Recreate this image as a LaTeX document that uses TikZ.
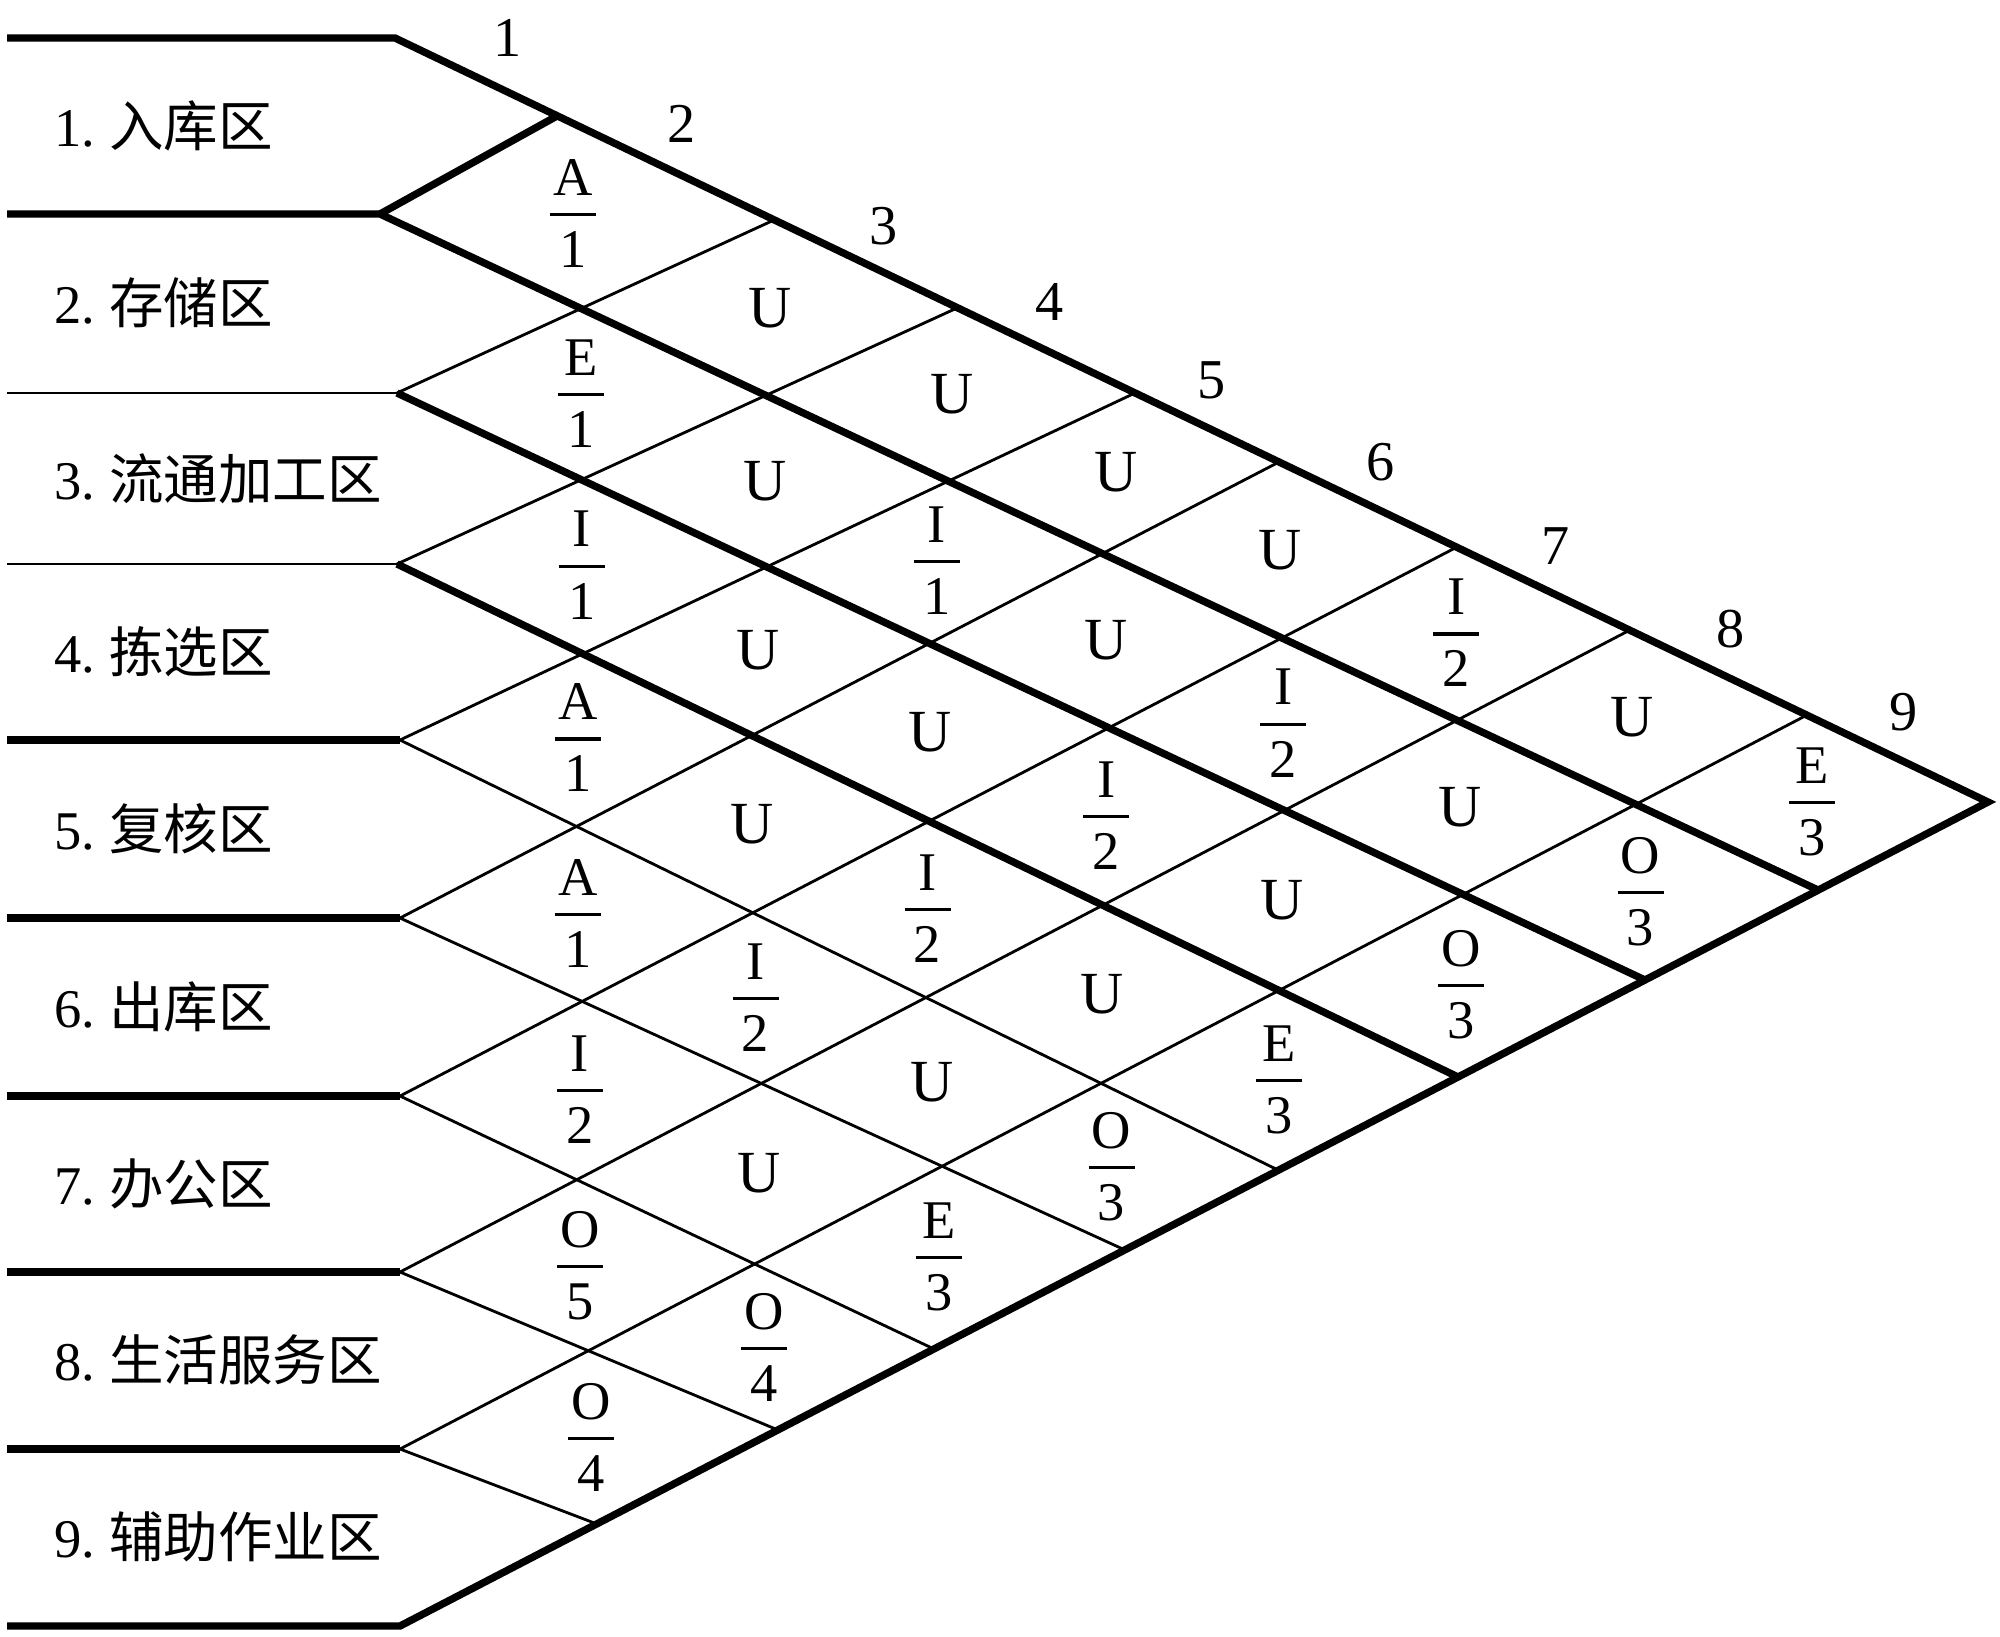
\documentclass[tikz,border=0pt]{standalone}
\usepackage{fontspec}
\setmainfont{Liberation Serif}
\newfontfamily\cjk{Noto Sans CJK SC}
\usetikzlibrary{calc}
\begin{document}
\begin{tikzpicture}[x=0.01cm,y=-0.01cm,
  thickln/.style={line width=2.1pt,line join=miter},
  thinln/.style={line width=0.8pt},
  rowlab/.style={anchor=west,inner sep=0pt,font=\fontsize{15.5}{18}\selectfont},
  colnum/.style={inner sep=0pt,font=\fontsize{16}{19}\selectfont},
  rel/.style={inner sep=0pt,font=\fontsize{17}{20}\selectfont},
  fracpart/.style={inner sep=0pt,font=\fontsize{15.5}{18}\selectfont},
  fbar/.style={line width=0.9pt}]
\fill[white] (0,0) rectangle (2000,1636);
\useasboundingbox (0,0) rectangle (2000,1636);
% left bend points
\coordinate (L0) at (395,38);
\coordinate (L1) at (380,214);
\coordinate (L2) at (397,393);
\coordinate (L3) at (397,564);
\coordinate (L4) at (400,740);
\coordinate (L5) at (400,918);
\coordinate (L6) at (400,1096);
\coordinate (L7) at (400,1272);
\coordinate (L8) at (400,1449);
\coordinate (L9) at (400,1626);
\coordinate (tip) at (1988,802);
% left ends of the horizontal lines
\foreach \k/\y in {0/38,1/214,2/393,3/564,4/740,5/918,6/1096,7/1272,8/1449,9/1626}
  \coordinate (E\k) at (7,\y);
% vertices on the top boundary
\coordinate (T1) at (557,116);
\coordinate (T2) at (774,220);
\coordinate (T3) at (957,308);
\coordinate (T4) at (1135,393);
\coordinate (T5) at (1279,462);
\coordinate (T6) at (1457,547);
\coordinate (T7) at (1630,630);
\coordinate (T8) at (1807,715);
\coordinate (T9) at (1988,802);
% vertices on the bottom boundary
\coordinate (B0) at (1988,802);
\coordinate (B1) at (1818,890);
\coordinate (B2) at (1645,980);
\coordinate (B3) at (1458,1077);
\coordinate (B4) at (1278,1170);
\coordinate (B5) at (1125,1250);
\coordinate (B6) at (934,1349);
\coordinate (B7) at (778,1430);
\coordinate (B8) at (597,1524);
% lines
\draw[thickln] (E0) -- (L0) -- (tip) -- (L9) -- (E9);
\draw[thickln] (E1) -- (L1) -- (B1);
\draw[thickln] (L1) -- (T1);
\draw[thinln] (E2) -- (L2);
\draw[thinln] (E3) -- (L3);
\draw[thickln] (L2) -- (B2);
\draw[thickln] (L3) -- (B3);
\foreach \k in {4,...,8} \draw[thickln] (E\k) -- (L\k);
\foreach \k in {4,...,8} \draw[thinln] (L\k) -- (B\k);
\foreach \k in {2,...,8} \draw[thinln] (L\k) -- (T\k);
% lattice vertices
\foreach \i in {1,...,8} \coordinate (V-\i-\i) at (L\i);
\foreach \i in {0,...,8}{
  \pgfmathtruncatemacro\js{\i+1}
  \foreach \j in {\js,...,9}{
    \coordinate (V-\i-\j) at (intersection cs: first line={(L\i)--(B\i)}, second line={(L\j)--(T\j)});
  }
}
% cell centres
\foreach \i in {1,...,8}{
  \pgfmathtruncatemacro\js{\i+1}
  \foreach \j in {\js,...,9}{
    \pgfmathtruncatemacro\ii{\i-1}
    \pgfmathtruncatemacro\jj{\j-1}
    \coordinate (C-\i-\j) at ($0.25*(V-\ii-\jj)+0.25*(V-\ii-\j)+0.25*(V-\i-\j)+0.25*(V-\i-\jj)$);
  }
}
% U cells
\foreach \i/\j in {1/3,1/4,1/5,1/6,1/8,2/4,2/6,2/8,3/5,3/6,3/8,4/6,4/8,5/8,6/8}
  \node[rel] (u-\i-\j) at (C-\i-\j) {U};
% fraction cells
\foreach \i/\j/\a/\b in {1/2/A/1,1/7/I/2,1/9/E/3,2/3/E/1,2/5/I/1,2/7/I/2,2/9/O/3,
   3/4/I/1,3/7/I/2,3/9/O/3,4/5/A/1,4/7/I/2,4/9/E/3,5/6/A/1,5/7/I/2,5/9/O/3,
   6/7/I/2,6/9/E/3,7/8/O/5,7/9/O/4,8/9/O/4}{
  \node[fracpart] (fa-\i-\j) at ($(C-\i-\j)+(0,-37)$) {\a};
  \node[fracpart] (fb-\i-\j) at ($(C-\i-\j)+(0,35)$) {\b};
  \draw[fbar] ($(C-\i-\j)+(-23,0)$) -- ($(C-\i-\j)+(23,0)$);
}
% column numbers
\foreach \n/\x/\y in {1/508/38,2/682/124,3/884/226,4/1050/302,5/1212/380,6/1381/462,7/1556/546,8/1731/629,9/1904/712}
  \node[colnum] (col\n) at (\x,\y) {\n};
% row labels
\node[rowlab] (r1) at (54,126) {1.\ {\cjk 入库区}};
\node[rowlab] (r2) at (54,303) {2.\ {\cjk 存储区}};
\node[rowlab] (r3) at (54,479) {3.\ {\cjk 流通加工区}};
\node[rowlab] (r4) at (54,652) {4.\ {\cjk 拣选区}};
\node[rowlab] (r5) at (54,829) {5.\ {\cjk 复核区}};
\node[rowlab] (r6) at (54,1007) {6.\ {\cjk 出库区}};
\node[rowlab] (r7) at (54,1184) {7.\ {\cjk 办公区}};
\node[rowlab] (r8) at (54,1360) {8.\ {\cjk 生活服务区}};
\node[rowlab] (r9) at (54,1537) {9.\ {\cjk 辅助作业区}};
\end{tikzpicture}
\end{document}
